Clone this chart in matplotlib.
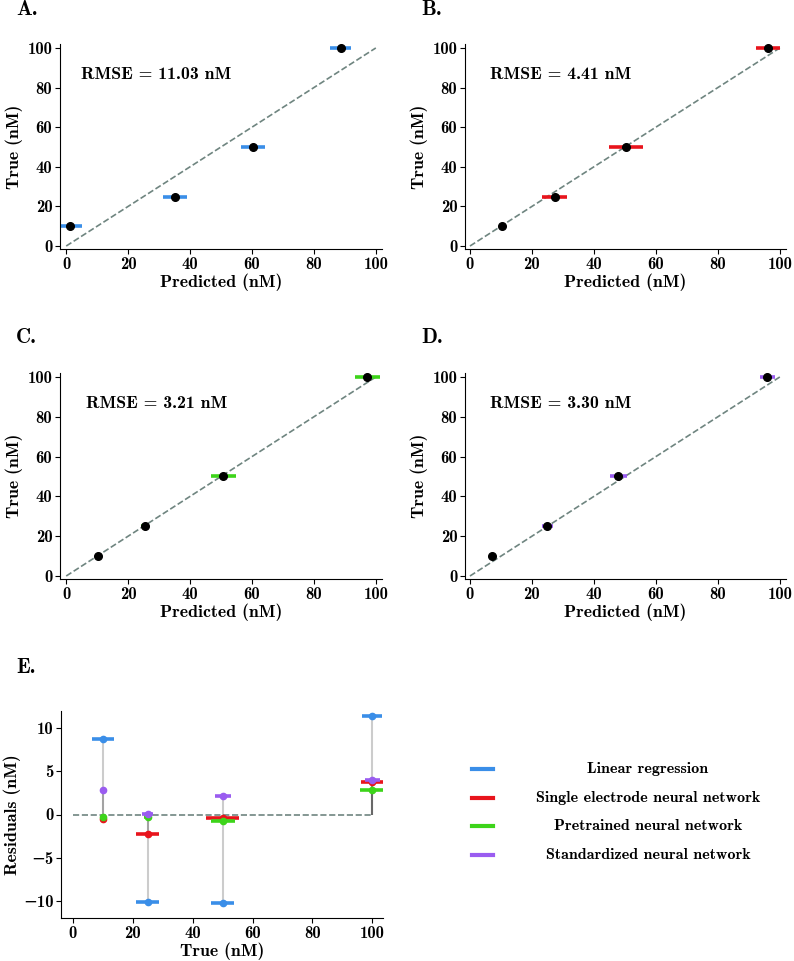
import matplotlib
matplotlib.use('Agg')
import matplotlib.pyplot as plt

plt.rcParams['font.family'] = ['cmb10', 'DejaVu Serif']
plt.rcParams['mathtext.fontset'] = 'cm'
plt.rcParams['axes.unicode_minus'] = True

# data
true_vals = [10, 25, 50, 100]
models = ['Linear regression', 'Single electrode neural network',
          'Pretrained neural network', 'Standardized neural network']
colors = ['#3a8ee8', '#e8141c', '#3dd41a', '#9a5cf0']
pred_lr = [1.2, 35.2, 60.3, 88.6]
pred_sen = [10.5, 27.3, 50.4, 96.2]
pred_pre = [10.3, 25.3, 50.7, 97.2]
pred_std = [7.2, 24.9, 47.9, 96.0]
err_lr = [3.8, 3.9, 3.8, 3.3]
err_sen = [0.3, 3.9, 5.5, 3.9]
err_pre = [0.3, 1.3, 4.0, 4.0]
err_std = [0.4, 1.8, 2.7, 2.5]
rmse = ['11.03', '4.41', '3.21', '3.30']
panel = ['A.', 'B.', 'C.', 'D.']

preds = [pred_lr, pred_sen, pred_pre, pred_std]
errs = [err_lr, err_sen, err_pre, err_std]

W, H = 794, 961
fig = plt.figure(figsize=(W / 100, H / 100), dpi=100)


def box(l, r, t, b):
    return [l / W, 1 - b / H, (r - l) / W, (b - t) / H]


boxes = [box(60, 382, 44, 249), box(465, 786, 44, 249),
         box(60, 382, 373, 579), box(465, 786, 373, 579)]
lbl_pos = [(16, 15), (421, 15), (16, 343), (421, 343)]
rmse_x = [0.065, 0.078, 0.08, 0.078]

for i in range(4):
    ax = fig.add_axes(boxes[i])
    ax.plot([0, 100], [0, 100], '--', color='#6f8580', lw=1.2, zorder=1)
    ax.errorbar(preds[i], true_vals, xerr=errs[i], fmt='none',
                ecolor=colors[i], elinewidth=2.6, capsize=0, zorder=2)
    ax.plot(preds[i], true_vals, 'o', color='k', ms=5.5, zorder=3)
    ax.set_xlim(-2 if i % 2 == 0 else -1.6, 102)
    ax.set_ylim(-1.5, 102)
    ax.set_xticks([0, 20, 40, 60, 80, 100])
    ax.set_yticks([0, 20, 40, 60, 80, 100])
    ax.tick_params(labelsize=12, pad=2)
    ax.set_xlabel('Predicted (nM)', fontsize=12.8, labelpad=1)
    ax.set_ylabel('True (nM)', fontsize=12.8, labelpad=3)
    ax.spines['top'].set_visible(False)
    ax.spines['right'].set_visible(False)
    ax.text(rmse_x[i], 0.85, 'RMSE = %s nM' % rmse[i], transform=ax.transAxes,
            fontsize=12.8, va='center')
    fig.text(lbl_pos[i][0] / W, 1 - lbl_pos[i][1] / H, panel[i], fontsize=15)

# residuals
ax = fig.add_axes(box(61, 383, 711, 918))
ax.plot([0, 100], [0, 0], '--', color='#6f8580', lw=1.2, zorder=1)
for i in range(4):
    res = [t - p for t, p in zip(true_vals, preds[i])]
    ax.vlines(true_vals, 0, res, color='k', alpha=0.2, lw=1.5, zorder=1)
for i in range(4):
    res = [t - p for t, p in zip(true_vals, preds[i])]
    ax.errorbar(true_vals, res, xerr=errs[i], fmt='o', color=colors[i],
                ms=4.5, elinewidth=2.6, capsize=0, zorder=2 + i)
ax.set_xlim(-4, 103.6)
ax.set_ylim(-12, 12)
ax.set_xticks([0, 20, 40, 60, 80, 100])
ax.set_yticks([-10, -5, 0, 5, 10])
ax.tick_params(labelsize=12, pad=2)
ax.set_xlabel('True (nM)', fontsize=12.8, labelpad=1)
ax.set_ylabel('Residuals (nM)', fontsize=12.8, labelpad=1)
ax.spines['top'].set_visible(False)
ax.spines['right'].set_visible(False)
fig.text(16 / W, 1 - 673 / H, 'E.', fontsize=15)

# legend with centered labels
lax = fig.add_axes([0, 0, 1, 1], facecolor='none')
lax.set_xlim(0, W)
lax.set_ylim(H, 0)
lax.axis('off')
for i, m in enumerate(models):
    y = 769 + i * 28.7
    lax.plot([472, 493], [y, y], color=colors[i], lw=3)
    lax.text(648, y, m, ha='center', va='center', fontsize=11.5)

fig.savefig('out.png', dpi=100)
